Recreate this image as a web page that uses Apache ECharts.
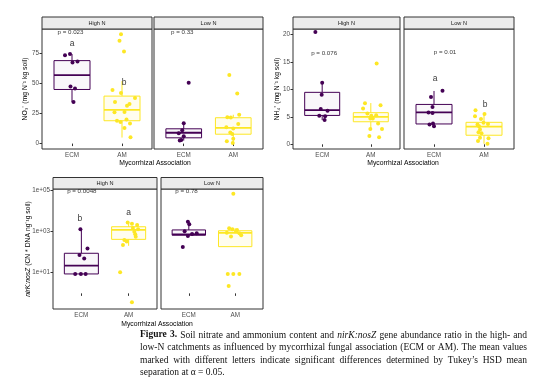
<!DOCTYPE html>
<html><head><meta charset="utf-8">
<script src="https://cdn.jsdelivr.net/npm/echarts@6/dist/echarts.min.js"></script>
<style>html,body{margin:0;padding:0;background:#fff}#c{width:554px;height:392px}</style>
</head><body><div id="c"></div><script>
// ---------------- DATA ----------------
const groups = ['ECM', 'AM'];
const facets = ['High N', 'Low N'];

// Panel A: nitrate (mg N kg-1 soil)
const no3Ticks = [0, 25, 50, 75];
const no3BoxHigh = [[34.5, 45, 57, 69, 74.5], [5, 19, 28, 39.5, 52]];
const no3BoxLow = [[2.5, 4.8, 9, 12.3, 17], [0.5, 7.8, 13, 21.5, 24]];
const no3HighECM = [73.5, 74.5, 67.5, 68.2, 47.5, 45.8, 34.5];
const no3HighECMJit = [-0.14, -0.04, 0.01, 0.11, -0.03, 0.06, 0.03];
const no3HighAM = [91, 85.5, 76.5, 44.5, 42, 38, 34.5, 33, 31.5, 26.2, 26, 20, 19, 18, 16.7, 13, 5.2];
const no3HighAMJit = [-0.02, -0.05, 0.04, -0.19, -0.02, 0.26, -0.14, 0.15, 0.1, 0.05, -0.15, 0.09, -0.1, -0.03, 0.16, 0.05, 0.17];
const no3LowECM = [50.7, 17, 11, 8.5, 6, 3, 2.5];
const no3LowECMJit = [0.1, 0.0, -0.03, -0.1, 0.0, -0.05, -0.08];
const no3LowAM = [57, 41.7, 24, 22, 21.6, 16.3, 13.5, 12.5, 9.2, 8, 4, 2, 0.5];
const no3LowAMJit = [-0.08, 0.08, 0.12, -0.12, -0.05, 0.1, -0.14, 0.0, -0.06, -0.02, 0.0, -0.13, -0.01];
const no3Pvals = ['p = 0.023', 'p = 0.33'];
const no3Letters = [['a', 'b'], ['', '']];

// Panel B: ammonium (mg N kg-1 soil)
const nh4Ticks = [0, 5, 10, 15, 20];
const nh4BoxHigh = [[4.4, 5.25, 6.2, 9.45, 11.15], [2.8, 4.1, 5.0, 5.75, 7.5]];
const nh4BoxLow = [[3.3, 3.7, 5.8, 7.25, 9.7], [0.1, 1.65, 3.2, 4.0, 5.7]];
const nh4HighECM = [20.4, 11.2, 9.0, 6.4, 6.1, 5.2, 5.1, 4.4];
const nh4HighECMJit = [-0.14, 0.0, -0.01, -0.03, 0.11, -0.06, 0.06, 0.05];
const nh4HighAM = [14.7, 7.45, 7.1, 6.5, 5.6, 5.3, 5.2, 4.7, 4.7, 3.8, 2.8, 2.8, 1.5, 1.3];
const nh4HighAMJit = [0.12, -0.12, 0.2, -0.16, -0.07, 0.11, 0.01, 0.04, -0.01, 0.15, -0.01, 0.23, -0.03, 0.17];
const nh4LowECM = [9.75, 8.6, 6.8, 5.8, 5.7, 3.8, 3.6, 3.3];
const nh4LowECMJit = [0.17, -0.06, -0.03, -0.11, -0.03, -0.02, -0.09, 0.0];
const nh4LowAM = [6.2, 5.5, 5.1, 4.6, 3.9, 3.6, 3.7, 3.3, 2.7, 2.2, 2.0, 1.2, 1.1, 0.6, 0.1];
const nh4LowAMJit = [-0.17, 0.01, -0.18, -0.06, -0.01, -0.13, 0.08, -0.1, -0.08, -0.11, -0.05, -0.08, 0.09, -0.12, 0.07];
const nh4Pvals = ['p = 0.076', 'p = 0.01'];
const nh4Letters = [['', ''], ['a', 'b']];

// Panel C: nirK:nosZ ratio (log scale)
const ratioTicks = [10, 1000, 100000];
const ratioBoxHigh = [[8.7, 8.7, 22, 87, 1250], [200, 410, 1180, 1670, 2650]];
const ratioBoxLow = [[590, 650, 720, 1170, 2950], [182, 182, 850, 1070, 1400]];
const ratioHighECM = [1250, 150, 72, 48, 8.7, 8.7, 8.7];
const ratioHighECMJit = [-0.02, 0.13, -0.04, 0.06, -0.13, -0.01, 0.09];
const ratioHighAM = [2650, 2300, 2000, 1450, 1250, 950, 720, 550, 380, 320, 220, 10.5, 0.37];
const ratioHighAMJit = [-0.02, 0.07, 0.18, 0.09, 0.2, 0.12, 0.14, 0.15, -0.09, -0.04, -0.12, -0.18, 0.07];
const ratioLowECM = [2900, 2200, 1000, 800, 750, 600, 175];
const ratioLowECMJit = [-0.02, 0.01, -0.09, 0.17, 0.07, -0.02, -0.13];
const ratioLowAM = [65000, 1400, 1250, 1150, 1000, 850, 800, 650, 560, 8.7, 8.7, 8.7, 2.3];
const ratioLowAMJit = [-0.04, -0.13, -0.06, 0.04, 0.02, -0.18, 0.09, 0.13, -0.09, -0.16, -0.04, 0.09, -0.14];
const ratioPvals = ['p = 0.0048', 'p = 0.78'];
const ratioLetters = [['b', 'a'], ['', '']];

const captionLines = [
  'Figure 3. Soil nitrate and ammonium content and nirK:nosZ gene abundance ratio in the high- and',
  'low-N catchments as influenced by mycorrhizal fungal association (ECM or AM). The mean values',
  'marked with different letters indicate significant differences determined by Tukey\u2019s HSD mean',
  'separation at \u03b1 = 0.05.'
];

// ---------------- STYLE / LAYOUT ----------------
const PURPLE = '#440154', YELLOW = '#FDE725';
const BOX_FILL = ['rgba(68,1,84,0.03)', 'rgba(253,231,37,0.08)'];
const FONT = '"Liberation Sans", Arial, sans-serif';
const SERIF = '"Liberation Serif", "Times New Roman", serif';
const option = { animation: false, backgroundColor: '#fff', grid: [], xAxis: [], yAxis: [], series: [], graphic: [] };

function renderBox(params, api) {
  const x = api.value(0);
  const lo = api.value(1), q1 = api.value(2), md = api.value(3), q3 = api.value(4), hi = api.value(5);
  const c = [PURPLE, YELLOW][params.dataIndex];
  const hw = 0.36;
  const a = api.coord([x - hw, q3]);
  const b = api.coord([x + hw, q1]);
  const m = api.coord([x, md]);
  const t = api.coord([x, hi]);
  const d = api.coord([x, lo]);
  return {
    type: 'group', children: [
      { type: 'line', shape: { x1: t[0], y1: t[1], x2: t[0], y2: a[1] }, style: { stroke: c, lineWidth: 1 } },
      { type: 'line', shape: { x1: d[0], y1: b[1], x2: d[0], y2: d[1] }, style: { stroke: c, lineWidth: 1 } },
      { type: 'rect', shape: { x: a[0], y: a[1], width: b[0] - a[0], height: b[1] - a[1] }, style: { fill: BOX_FILL[params.dataIndex], stroke: c, lineWidth: 1 } },
      { type: 'line', shape: { x1: a[0], y1: m[1], x2: b[0], y2: m[1] }, style: { stroke: c, lineWidth: 1.8 } }
    ]
  };
}

function addPanel(P) {
  P.grids.forEach((g, fi) => {
    const gi = option.grid.length;
    option.grid.push({ left: g[0], top: g[1], width: g[2], height: g[3], show: true, borderColor: '#333', borderWidth: 1, backgroundColor: 'transparent' });
    option.xAxis.push({
      type: 'value', gridIndex: gi, min: 0.4, max: 2.6, splitLine: { show: false },
      axisLine: { show: false },
      axisTick: { show: true, customValues: [1, 2], length: 2.5, lineStyle: { color: '#333' } },
      axisLabel: { customValues: [1, 2], formatter: v => groups[Math.round(v) - 1], fontSize: 6.3, color: '#4d4d4d', margin: 3, fontFamily: FONT }
    });
    const tv = P.ticks.map(P.tf);
    option.yAxis.push({
      type: 'value', gridIndex: gi, min: P.yMin, max: P.yMax, splitLine: { show: false },
      axisLine: { show: false },
      axisTick: { show: fi === 0, customValues: tv, length: 2.5, lineStyle: { color: '#333' } },
      axisLabel: { show: fi === 0, customValues: tv, formatter: P.tickFmt, fontSize: 6.3, color: '#4d4d4d', margin: 3, fontFamily: FONT }
    });
    option.graphic.push({ type: 'rect', shape: { x: g[0], y: g[1] - P.stripH, width: g[2], height: P.stripH }, style: { fill: '#ececec', stroke: '#333', lineWidth: 1 }, z: 10 });
    option.graphic.push({ type: 'text', x: g[0] + g[2] / 2, y: g[1] - P.stripH / 2, style: { text: facets[fi], align: 'center', verticalAlign: 'middle', fontSize: 5.6, fill: '#1a1a1a', fontFamily: FONT }, z: 11 });
    option.series.push({
      type: 'custom', xAxisIndex: gi, yAxisIndex: gi, renderItem: renderBox, z: 2,
      data: P.boxes[fi].map((b, k) => [k + 1].concat(b.map(P.tf)))
    });
    P.points[fi].forEach((pp, k) => {
      option.series.push({
        type: 'scatter', xAxisIndex: gi, yAxisIndex: gi, symbolSize: 4, z: 3,
        itemStyle: { color: [PURPLE, YELLOW][k], opacity: 1 },
        data: pp[0].map((v, i) => [k + 1 + pp[1][i], P.tf(v)])
      });
    });
    const ann = [];
    const pp = P.pPos[fi];
    ann.push({ value: [pp[0], P.tf(pp[1])], name: P.pvals[fi], label: { fontSize: 6.2 } });
    P.letters[fi].forEach((L, k) => {
      if (!L) return;
      const lp = P.letterPos[fi][k];
      ann.push({ value: [lp[0], P.tf(lp[1])], name: L, label: { fontSize: 8.5 } });
    });
    option.series.push({
      type: 'scatter', xAxisIndex: gi, yAxisIndex: gi, symbolSize: 0, silent: true, z: 4,
      data: ann, label: { show: true, position: 'inside', formatter: '{b}', color: '#000', fontFamily: FONT }
    });
  });
  option.graphic.push({ type: 'text', x: P.yTitle[0], y: P.yTitle[1], rotation: Math.PI / 2, style: { text: P.yTitleText, rich: { i: { fontStyle: 'italic', fontSize: 6.8, fontFamily: FONT, fill: '#000' } }, align: 'center', verticalAlign: 'middle', fontSize: 6.8, fill: '#000', fontFamily: FONT } });
  option.graphic.push({ type: 'text', x: P.xTitle[0], y: P.xTitle[1], style: { text: 'Mycorrhizal Association', align: 'center', verticalAlign: 'middle', fontSize: 6.8, fill: '#000', fontFamily: FONT } });
}

const ident = v => v;
addPanel({
  grids: [[42, 29, 110, 120], [154, 29, 109, 120]], stripH: 12,
  yMin: -4.5, yMax: 95.3, ticks: no3Ticks, tf: ident, tickFmt: v => String(Math.round(v)),
  boxes: [no3BoxHigh, no3BoxLow],
  points: [[[no3HighECM, no3HighECMJit], [no3HighAM, no3HighAMJit]], [[no3LowECM, no3LowECMJit], [no3LowAM, no3LowAMJit]]],
  pvals: no3Pvals, pPos: [[0.97, 92.5], [0.97, 92.5]],
  letters: no3Letters, letterPos: [[[1.0, 82.8], [2.04, 50.5]], [[1, 0], [2, 0]]],
  yTitle: [25, 89], yTitleText: 'NO\u2083\u207b (mg N\u207b\u00b9 kg soil)', xTitle: [155, 163]
});
addPanel({
  grids: [[293, 29, 107, 120], [404, 29, 110, 120]], stripH: 12,
  yMin: -0.85, yMax: 20.96, ticks: nh4Ticks, tf: ident, tickFmt: v => String(Math.round(v)),
  boxes: [nh4BoxHigh, nh4BoxLow],
  points: [[[nh4HighECM, nh4HighECMJit], [nh4HighAM, nh4HighAMJit]], [[nh4LowECM, nh4LowECMJit], [nh4LowAM, nh4LowAMJit]]],
  pvals: nh4Pvals, pPos: [[1.04, 16.5], [1.22, 16.8]],
  letters: nh4Letters, letterPos: [[[1, 0], [2, 0]], [[1.02, 11.9], [2.02, 7.15]]],
  yTitle: [277, 89], yTitleText: 'NH\u2084\u207a (mg N\u207b\u00b9 kg soil)', xTitle: [403, 163]
});
addPanel({
  grids: [[53, 189, 104, 120], [161, 189, 102, 120]], stripH: 11.5,
  yMin: -0.756, yMax: 5.048, ticks: ratioTicks, tf: v => Math.log10(v), tickFmt: v => '1e+0' + Math.round(v),
  boxes: [ratioBoxHigh, ratioBoxLow],
  points: [[[ratioHighECM, ratioHighECMJit], [ratioHighAM, ratioHighAMJit]], [[ratioLowECM, ratioLowECMJit], [ratioLowAM, ratioLowAMJit]]],
  pvals: ratioPvals, pPos: [[1.01, 83000], [0.95, 83000]],
  letters: ratioLetters, letterPos: [[[0.97, 4000], [2.0, 8000]], [[1, 1], [2, 1]]],
  yTitle: [28, 249], yTitleText: '{i|nirK:nosZ} (CN * DNA ng\u207b\u00b9g soil)', xTitle: [157, 324]
});

// caption (justified lines)
const CAP_X = 140, CAP_W = 387, CAP_Y = 335, CAP_LH = 12.6, CAP_FS = 9.5;
const mctx = document.createElement('canvas').getContext('2d');
function capFont(s) { return (s.italic ? 'italic ' : '') + (s.bold ? 'bold ' : '') + CAP_FS + 'px ' + SERIF; }
captionLines.forEach((line, li) => {
  const words = line.split(' ');
  const st = words.map((w, wi) => ({ bold: li === 0 && wi < 2, italic: w === 'nirK:nosZ' }));
  const wd = words.map((w, i) => { mctx.font = capFont(st[i]); return mctx.measureText(w).width; });
  mctx.font = capFont({});
  const sp = mctx.measureText(' ').width;
  const tot = wd.reduce((a, b) => a + b, 0);
  const gap = li < captionLines.length - 1 ? (CAP_W - tot) / (words.length - 1) : sp;
  let x = CAP_X;
  words.forEach((w, i) => {
    option.graphic.push({ type: 'text', x: x, y: CAP_Y + li * CAP_LH, style: { text: w, verticalAlign: 'middle', fontSize: CAP_FS, fontFamily: SERIF, fontWeight: st[i].bold ? 'bold' : 'normal', fontStyle: st[i].italic ? 'italic' : 'normal', fill: '#111' } });
    x += wd[i] + gap;
  });
});

const chart = echarts.init(document.getElementById('c'), null, { renderer: 'canvas' });
chart.setOption(option);
</script></body></html>
